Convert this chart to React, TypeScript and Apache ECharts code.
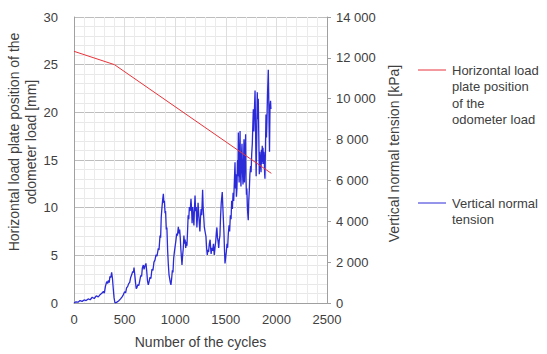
import React, { useEffect, useRef } from "react";
import * as echarts from "echarts";

const xTicks = [0, 500, 1000, 1500, 2000, 2500];
const positionName = "Horizontal load plate position of the odometer load";
const tensionName = "Vertical normal tension";
const positionLegendLines = ["Horizontal load", "plate position", "of the", "odometer load"];
const tensionLegendLines = ["Vertical normal", "tension"];

// [cycles, mm]
const positionData: [number, number][] = [
  [0, 26.4],
  [400, 25.0],
  [1950, 13.6],
];

// [cycles, kPa]
const tensionData: [number, number][] = [
  [0, 0], [20, 60], [40, 40], [60, 120], [80, 80], [100, 150], [120, 120], [140, 200], [160, 160],
  [180, 280], [200, 220], [220, 350], [240, 300], [260, 420], [280, 500], [290, 570], [300, 480],
  [310, 800], [323, 1050], [332, 950], [340, 1100], [348, 1000], [355, 1300], [364, 1250], [372, 1500],
  [380, 1200], [388, 700], [396, 250], [405, 0], [420, 30], [440, 100], [460, 200], [475, 300],
  [487, 400], [500, 550], [510, 500], [520, 750], [530, 800], [540, 950], [550, 1000], [560, 1250],
  [570, 1380], [580, 1550], [588, 1500], [593, 1730], [600, 1400], [608, 1000], [615, 700], [622, 750],
  [630, 900], [640, 850], [650, 1100], [660, 1350], [668, 1300], [675, 1700], [685, 1860], [692, 1650],
  [700, 1800], [711, 1940], [718, 1600], [726, 1100], [734, 890], [742, 1050], [750, 1250], [760, 1200],
  [770, 1650], [780, 1600], [790, 2000], [800, 2100], [810, 2350], [820, 2300], [833, 2670], [840, 2600],
  [850, 3300], [856, 3200], [862, 4200], [868, 4600], [875, 5000], [883, 5350], [888, 4900], [893, 5000],
  [900, 4400], [905, 4500], [912, 3600], [918, 3700], [925, 2600], [932, 1900], [939, 1380], [945, 1200],
  [952, 1000], [958, 890], [965, 1200], [972, 1600], [978, 1500], [985, 2200], [992, 2500], [1000, 2800],
  [1008, 3100], [1015, 3400], [1022, 3300], [1031, 3730], [1038, 3400], [1044, 3600], [1050, 3200],
  [1055, 2700], [1062, 2200], [1067, 1860], [1073, 2300], [1080, 2700], [1086, 3300], [1092, 2900],
  [1098, 3100], [1104, 2700], [1110, 3000], [1116, 2800], [1122, 3500], [1128, 4300], [1134, 4100],
  [1140, 4700], [1148, 4500], [1156, 5100], [1162, 4600], [1167, 3900], [1172, 4700], [1178, 4300],
  [1185, 3800], [1190, 4600], [1196, 5260], [1202, 4500], [1208, 4700], [1214, 3700], [1220, 4200],
  [1226, 4900], [1232, 4400], [1238, 3900], [1244, 3500], [1250, 4200], [1256, 4600], [1262, 4300],
  [1271, 5540], [1276, 4700], [1282, 4200], [1288, 3700], [1295, 3500], [1304, 3250], [1310, 2700],
  [1317, 2350], [1323, 2600], [1330, 2500], [1337, 2900], [1345, 3100], [1350, 2700], [1355, 2400],
  [1362, 2700], [1370, 2550], [1378, 2900], [1386, 2350], [1393, 2700], [1400, 3000], [1406, 3400],
  [1412, 3700], [1418, 3200], [1424, 3000], [1430, 2700], [1436, 3100], [1442, 3300], [1448, 4200],
  [1455, 4900], [1465, 5430], [1470, 4800], [1476, 4100], [1482, 3400], [1487, 2600], [1492, 1940],
  [1498, 2200], [1505, 2500], [1512, 2900], [1518, 2700], [1525, 3400], [1532, 3800], [1538, 3500],
  [1545, 4300], [1552, 4100], [1558, 5000], [1565, 4600], [1572, 5400], [1578, 5000], [1585, 6000],
  [1591, 6890], [1596, 5600], [1600, 6300], [1605, 5200], [1610, 5600], [1616, 7000], [1620, 6200],
  [1624, 8340], [1628, 6500], [1632, 5900], [1636, 7200], [1641, 8420], [1645, 6300], [1650, 5700],
  [1655, 7200], [1660, 7800], [1665, 6400], [1670, 5800], [1675, 6800], [1680, 8020], [1684, 5900],
  [1688, 6800], [1696, 8260], [1700, 6000], [1704, 5300], [1708, 5600], [1714, 4600], [1718, 4300],
  [1722, 4050], [1727, 5000], [1732, 5500], [1738, 6300], [1745, 6700], [1750, 6400], [1756, 7300],
  [1762, 7800], [1767, 8700], [1772, 9480], [1777, 8400], [1782, 9300], [1789, 10400], [1793, 9100],
  [1797, 7300], [1800, 6200], [1805, 7800], [1811, 10320], [1816, 9000], [1821, 10000], [1826, 8200],
  [1831, 6300], [1836, 7400], [1842, 6900], [1848, 6400], [1852, 7500], [1856, 6800], [1860, 7700],
  [1864, 6900], [1868, 7600], [1872, 6800], [1876, 7400], [1880, 7000], [1884, 6300], [1887, 6080],
  [1892, 7600], [1897, 9230], [1902, 8100], [1907, 9000], [1912, 10200], [1916, 10800], [1920, 11420],
  [1924, 10200], [1928, 8600], [1932, 7400], [1935, 8800], [1937, 9640], [1942, 9900], [1946, 9500],
];

const textColor = "#404040";
const font = "Liberation Sans, Arial, sans-serif";
const redColor = "#e8333a";
const blueColor = "#2a2ad8";

function legendItem(y: number, color: string, lines: string[]) {
  return [
    { type: "line", shape: { x1: 418, y1: y, x2: 446, y2: y }, style: { stroke: color, lineWidth: 1 } },
    {
      type: "text",
      x: 452,
      y: y - 8,
      style: {
        text: lines.join("\n"),
        fontSize: 13,
        fontFamily: font,
        fill: textColor,
        lineHeight: 16.5,
        verticalAlign: "top",
        align: "left",
      },
    },
  ];
}

export default function App() {
  const ref = useRef<HTMLDivElement>(null);
  useEffect(() => {
    if (!ref.current) return;
    const chart = echarts.init(ref.current, undefined, { renderer: "svg" });
    chart.setOption({
      animation: false,
      textStyle: { fontFamily: font, color: textColor },
      grid: { left: 74, right: 220, top: 17, bottom: 49, containLabel: false },
      graphic: [
        ...legendItem(70, redColor, positionLegendLines),
        ...legendItem(203, blueColor, tensionLegendLines),
      ],
      xAxis: {
        type: "value",
        min: xTicks[0],
        max: xTicks[xTicks.length - 1],
        interval: 500,
        name: "Number of the cycles",
        nameLocation: "middle",
        nameGap: 32,
        nameTextStyle: { fontSize: 14, color: textColor },
        axisLine: { show: true, lineStyle: { color: "#a0a0a0" } },
        axisTick: { show: false },
        axisLabel: { fontSize: 13, color: textColor, margin: 10, formatter: (v: number) => String(v) },
        splitLine: { show: true, lineStyle: { color: "#dedede", width: 1 } },
        minorTick: { show: false, splitNumber: 5 },
        minorSplitLine: { show: true, lineStyle: { color: "#ebebeb", width: 1 } },
      },
      yAxis: [
        {
          type: "value",
          min: 0,
          max: 30,
          interval: 5,
          name: "Horizontal load plate position of the\nodometer load [mm]",
          nameLocation: "middle",
          nameGap: 26,
          nameRotate: 90,
          nameTextStyle: { fontSize: 14, color: textColor, lineHeight: 17, padding: [0, 0, 0, 36] },
          axisLine: { show: true, lineStyle: { color: "#a0a0a0" } },
          axisTick: { show: false },
          axisLabel: { fontSize: 13, color: textColor, margin: 16 },
          splitLine: { show: true, lineStyle: { color: "#bdbdbd", width: 1 } },
          minorTick: { show: false, splitNumber: 5 },
          minorSplitLine: { show: true, lineStyle: { color: "#e8e8e8", width: 1 } },
        },
        {
          type: "value",
          min: 0,
          max: 14000,
          interval: 2000,
          position: "right",
          name: "Vertical normal tension [kPa]",
          nameLocation: "middle",
          nameGap: 60,
          nameRotate: 90,
          nameTextStyle: { fontSize: 14, color: textColor, padding: [0, 0, 0, 13] },
          axisLine: { show: true, lineStyle: { color: "#a0a0a0" } },
          axisTick: { show: true, length: 4, lineStyle: { color: "#a0a0a0" } },
          axisLabel: {
            fontSize: 13,
            color: textColor,
            margin: 9,
            formatter: (v: number) => (v >= 1000 ? `${Math.floor(v / 1000)} ${String(v % 1000).padStart(3, "0")}` : String(v)),
          },
          splitLine: { show: false },
        },
      ],
      series: [
        {
          name: positionName,
          type: "line",
          yAxisIndex: 0,
          data: positionData,
          showSymbol: false,
          symbol: "none",
          lineStyle: { color: redColor, width: 1 },
          itemStyle: { color: redColor },
          z: 3,
        },
        {
          name: tensionName,
          type: "line",
          yAxisIndex: 1,
          data: tensionData,
          showSymbol: false,
          symbol: "none",
          lineStyle: { color: blueColor, width: 1.3 },
          itemStyle: { color: blueColor },
          z: 2,
        },
      ],
    });
    return () => chart.dispose();
  }, []);
  return <div ref={ref} style={{ position: "absolute", left: 0, top: 0, width: 547, height: 354 }} />;
}
